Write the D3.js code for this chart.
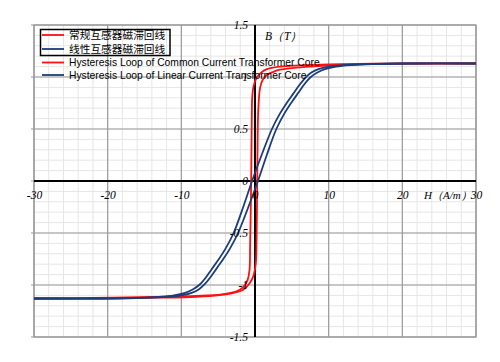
<!DOCTYPE html>
<html><head><meta charset="utf-8">
<script src="https://cdn.jsdelivr.net/npm/d3@7/dist/d3.min.js"></script>
<style>body{margin:0;background:#fff}svg{display:block}</style>
</head><body>
<script>
// ---- data ----
const xTicks = [-30,-20,-10,0,10,20,30];
const yTicks = [-1.5,-1,-0.5,0,0.5,1,1.5];
const legendCN = ["常规互感器磁滞回线","线性互感器磁滞回线"];
const legendEN = ["Hysteresis Loop of Common Current Transformer Core","Hysteresis Loop of Linear Current Transformer Core"];
// common CT loop: [H, B]
const redDescending = [[-30,-1.13],[-22,-1.125],[-14,-1.115],[-8,-1.105],[-4.5,-1.09],[-2.5,-1.06],[-1.6,-1.02],[-1.0,-0.95],[-0.75,-0.86],[-0.66,-0.6],[-0.58,-0.3],[-0.52,0],[-0.47,0.35],[-0.43,0.65],[-0.38,0.8],[-0.2,0.91],[0.2,0.99],[0.8,1.04],[1.6,1.075],[3.4,1.10],[6,1.112],[10,1.122],[16,1.128],[22,1.13],[30,1.13]];
const redAscending = [[-30,-1.13],[-20,-1.128],[-13,-1.122],[-8,-1.113],[-4.8,-1.097],[-3,-1.077],[-1.6,-1.045],[-0.7,-0.98],[-0.2,-0.91],[0.1,-0.8],[0.2,-0.6],[0.26,-0.3],[0.3,0],[0.35,0.35],[0.4,0.6],[0.48,0.73],[0.7,0.9],[1.1,0.98],[1.6,1.02],[2.5,1.05],[3.4,1.07],[5.6,1.09],[7.4,1.1],[10,1.113],[14,1.122],[20,1.128],[30,1.13]];
// linear CT loop: [H, B]
const blueDescending = [[-30,-1.13],[-21,-1.13],[-16,-1.124],[-13,-1.115],[-11,-1.1],[-9.5,-1.075],[-8.4,-1.04],[-7.5,-0.995],[-6.7,-0.93],[-5.9,-0.85],[-5.0,-0.76],[-4.0,-0.65],[-2.9,-0.5],[-1.6,-0.25],[-0.4,0],[0.9,0.25],[2.3,0.5],[3.4,0.65],[4.3,0.75],[5.2,0.84],[6.0,0.92],[6.8,0.99],[7.6,1.04],[8.6,1.075],[10,1.1],[12,1.115],[15,1.124],[20,1.13],[30,1.13]];
const blueAscending = [[-30,-1.13],[-20,-1.13],[-15,-1.124],[-12,-1.115],[-10,-1.1],[-8.6,-1.075],[-7.6,-1.04],[-6.8,-0.99],[-6.0,-0.92],[-5.2,-0.84],[-4.3,-0.75],[-3.4,-0.65],[-2.3,-0.5],[-0.9,-0.25],[0.4,0],[1.6,0.25],[2.9,0.5],[4.0,0.65],[5.0,0.76],[5.9,0.85],[6.7,0.93],[7.5,0.995],[8.4,1.04],[9.5,1.075],[11,1.1],[13,1.115],[16,1.124],[21,1.13],[30,1.13]];

const RED = "#ff1010", BLUE = "#1b3d7a";
const W = 500, H = 362;
const svg = d3.select("body").append("svg").attr("width", W).attr("height", H);
const x = d3.scaleLinear().domain([-30,30]).range([34,476]);
const y = d3.scaleLinear().domain([-1.5,1.5]).range([337,25]);

// minor grid
const g = svg.append("g");
g.selectAll("line.mx").data(d3.range(-30,30.1,2)).enter().append("line")
 .attr("x1",d=>x(d)).attr("x2",d=>x(d)).attr("y1",y(1.5)).attr("y2",y(-1.5))
 .attr("stroke","#e6e6e6").attr("stroke-width",1);
g.selectAll("line.my").data(d3.range(-15,15.1,1).map(v=>v/10)).enter().append("line")
 .attr("y1",d=>y(d)).attr("y2",d=>y(d)).attr("x1",x(-30)).attr("x2",x(30))
 .attr("stroke","#e6e6e6").attr("stroke-width",1);
// major grid
g.selectAll("line.Mx").data(xTicks).enter().append("line")
 .attr("x1",d=>x(d)).attr("x2",d=>x(d)).attr("y1",y(1.5)).attr("y2",y(-1.5))
 .attr("stroke","#9a9a9a").attr("stroke-width",1.2);
g.selectAll("line.My").data(yTicks).enter().append("line")
 .attr("y1",d=>y(d)).attr("y2",d=>y(d)).attr("x1",x(-30)-3).attr("x2",x(30))
 .attr("stroke","#9a9a9a").attr("stroke-width",1.2);
g.append("rect").attr("x",x(-30)).attr("y",y(1.5)).attr("width",x(30)-x(-30)).attr("height",y(-1.5)-y(1.5))
 .attr("fill","none").attr("stroke","#9a9a9a").attr("stroke-width",1.2);

// zero axes
svg.append("line").attr("x1",x(-30)).attr("x2",x(30)).attr("y1",y(0)).attr("y2",y(0)).attr("stroke","#000").attr("stroke-width",2);
svg.append("line").attr("x1",x(0)).attr("x2",x(0)).attr("y1",y(1.5)).attr("y2",y(-1.5)).attr("stroke","#000").attr("stroke-width",2);

// curves
svg.append("clipPath").attr("id","clip").append("rect").attr("x",x(-30)).attr("y",y(1.5)).attr("width",x(30)-x(-30)).attr("height",y(-1.5)-y(1.5));
const line = d3.line().x(d=>x(d[0])).y(d=>y(d[1])).curve(d3.curveCatmullRom.alpha(0.5));
const cg = svg.append("g").attr("clip-path","url(#clip)");
[[redDescending,RED],[redAscending,RED],[blueDescending,BLUE],[blueAscending,BLUE]].forEach(([d,c])=>{
  cg.append("path").datum(d).attr("d",line).attr("fill","none").attr("stroke",c).attr("stroke-width",1.8);
});

// tick labels via axes
const fontTick = "'Liberation Serif','Times New Roman',serif";
const xa = svg.append("g").attr("transform",`translate(0,${y(0)})`)
 .call(d3.axisBottom(x).tickValues(xTicks).tickSize(0).tickPadding(10).tickFormat(d=>String(d)));
const ya = svg.append("g").attr("transform",`translate(${x(0)-1},0)`)
 .call(d3.axisLeft(y).tickValues(yTicks).tickSize(0).tickPadding(6).tickFormat(d=>String(d)));
[xa,ya].forEach(a=>{
  a.select(".domain").remove();
  a.selectAll("text").attr("font-family",fontTick).attr("font-style","italic").attr("font-size","11.5px").attr("fill","#000");
});

// axis titles
svg.append("text").attr("x",265).attr("y",40).attr("font-family",fontTick).attr("font-style","italic").attr("font-size","11.5px").text("B（T）");
svg.append("text").attr("x",424).attr("y",199).attr("font-family",fontTick).attr("font-style","italic").attr("font-size","11px").text("H（A/m）");

// legend
const lg = svg.append("g");
lg.append("rect").attr("x",40.5).attr("y",29.5).attr("width",129.5).attr("height",26).attr("fill","none").attr("stroke","#000").attr("stroke-width",1.5);
const cnY = [35,49], enY = [62.5,75];
[RED,BLUE].forEach((c,i)=>{
  lg.append("line").attr("x1",42).attr("x2",64).attr("y1",cnY[i]).attr("y2",cnY[i]).attr("stroke",c).attr("stroke-width",1.8);
  lg.append("text").attr("x",69).attr("y",cnY[i]).attr("dy","0.36em").attr("font-family","'Noto Sans CJK SC',sans-serif").attr("font-size","10.7px").attr("fill","#000").text(legendCN[i]);
  lg.append("line").attr("x1",42).attr("x2",64).attr("y1",enY[i]).attr("y2",enY[i]).attr("stroke",c).attr("stroke-width",1.8);
  lg.append("text").attr("x",69).attr("y",enY[i]).attr("dy","0.36em").attr("font-family","'Liberation Sans',Arial,sans-serif").attr("font-size","10.3px").attr("fill","#000").text(legendEN[i]);
});
</script>
</body></html>
